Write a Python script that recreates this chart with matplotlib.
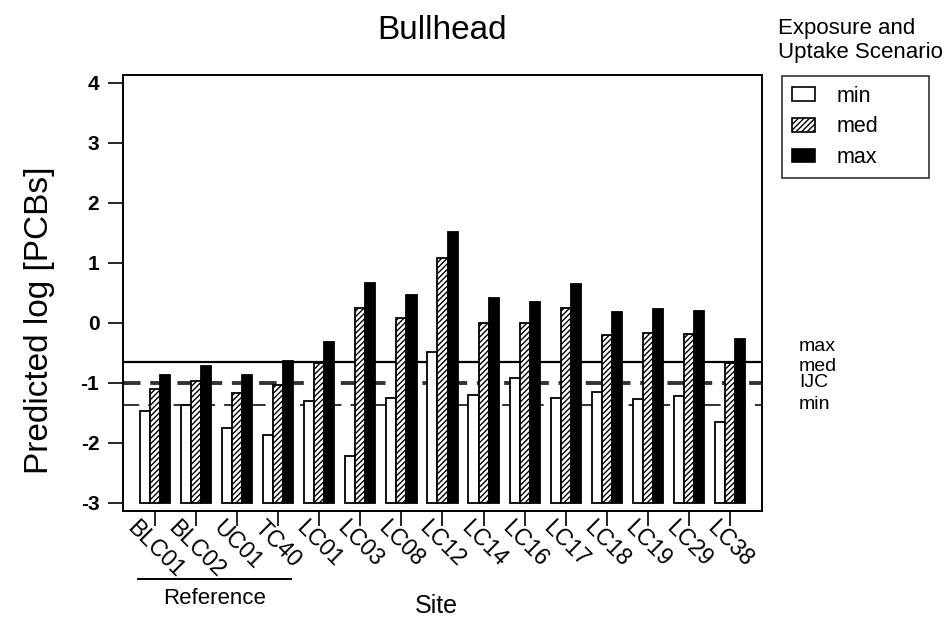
import numpy as np
import matplotlib.pyplot as plt
from matplotlib.patches import Patch
from matplotlib.lines import Line2D
import matplotlib.transforms as mtransforms

plt.rcParams['font.family'] = ['Liberation Sans', 'DejaVu Sans']
plt.rcParams['hatch.linewidth'] = 1.0

sites = ['BLC01', 'BLC02', 'UC01', 'TC40', 'LC01', 'LC03', 'LC08', 'LC12',
         'LC14', 'LC16', 'LC17', 'LC18', 'LC19', 'LC29', 'LC38']
min_vals = [-1.47, -1.38, -1.75, -1.88, -1.30, -2.23, -1.26, -0.49,
            -1.21, -0.93, -1.26, -1.16, -1.28, -1.23, -1.66]
med_vals = [-1.10, -0.97, -1.18, -1.04, -0.67, 0.25, 0.07, 1.08,
            0.00, -0.01, 0.25, -0.21, -0.18, -0.19, -0.68]
max_vals = [-0.88, -0.72, -0.88, -0.64, -0.33, 0.66, 0.46, 1.51,
            0.41, 0.35, 0.64, 0.17, 0.22, 0.20, -0.28]

# benchmark levels drawn across the plot
bench_max = -0.66
bench_med = -1.00
bench_min = -1.38

baseline = -3.0

fig = plt.figure(figsize=(9.48, 6.19), dpi=100)
ax = fig.add_axes([0.1297, 0.1745, 0.6741, 0.7043])

x = np.arange(len(sites))
w = 0.245
ax.bar(x - w, np.array(min_vals) - baseline, w, bottom=baseline,
       color='white', edgecolor='black', linewidth=1.3)
ax.bar(x, np.array(med_vals) - baseline, w, bottom=baseline,
       color='white', edgecolor='black', linewidth=1.3, hatch='//////')
ax.bar(x + w, np.array(max_vals) - baseline, w, bottom=baseline,
       color='black', edgecolor='black', linewidth=1.3)

ax.axhline(bench_max, color='black', linewidth=1.6, zorder=0)
ax.axhline(bench_med, color='#333333', linewidth=2.8, linestyle=(0, (4.5, 2.5)), zorder=0)
ax.axhline(bench_min, color='#222222', linewidth=1.3, linestyle=(0, (9, 5)), zorder=0)

ax.set_xlim(-0.78, 14.78)
ax.set_ylim(-3.14, 4.13)
ax.set_yticks(range(-3, 5))
ax.set_yticklabels([str(v) for v in range(-3, 5)], fontsize=15, fontweight='bold')
ax.set_xticks(x)
ax.set_xticklabels(sites, rotation=-45, ha='center', va='top', fontsize=16.5)
offset = mtransforms.ScaledTranslation(-0.11, 0.0, fig.dpi_scale_trans)
for lab in ax.get_xticklabels():
    lab.set_transform(lab.get_transform() + offset)
ax.tick_params(axis='both', direction='out', length=11, width=1.2, colors='black')
ax.tick_params(axis='y', pad=6)
ax.tick_params(axis='x', pad=-7)
for sp in ax.spines.values():
    sp.set_linewidth(1.4)

ax.set_title('Bullhead', fontsize=24, pad=26)
ax.set_ylabel('Predicted log [PCBs]', fontsize=24)
ax.yaxis.set_label_coords(-0.107, 0.438)
ax.set_xlabel('Site', fontsize=18)
ax.xaxis.set_label_coords(0.49, -0.19)

# benchmark labels to the right of the plot
for txt, yv in [('max', -0.40), ('med', -0.73), ('IJC', -1.0), ('min', -1.37)]:
    ax.text(15.68, yv, txt, fontsize=14, va='center', ha='left', clip_on=False)

# reference-site bracket
fig.add_artist(Line2D([138 / 948, 291 / 948], [1 - 579 / 619, 1 - 579 / 619],
                      color='black', linewidth=1.4))
fig.text(215 / 948, 1 - 598 / 619, 'Reference', fontsize=16, ha='center', va='center')

# legend
fig.text(778 / 948, 1 - 18 / 619, 'Exposure and\nUptake Scenario', fontsize=16,
         ha='left', va='top', linespacing=1.2)
handles = [Patch(facecolor='white', edgecolor='black', linewidth=1.2),
           Patch(facecolor='white', edgecolor='black', linewidth=1.2, hatch='//////'),
           Patch(facecolor='black', edgecolor='black', linewidth=1.2)]
leg = fig.legend(handles, ['min', 'med', 'max'], loc='upper left',
                 bbox_to_anchor=(782 / 948, 1 - 180 / 619, 147 / 948, 104 / 619),
                 mode='expand', fontsize=15.5,
                 frameon=True, fancybox=False, handlelength=1.1, handleheight=0.6,
                 handletextpad=1.0, labelspacing=0.45, borderpad=0.45,
                 borderaxespad=0)
leg.get_frame().set_edgecolor('black')
leg.get_frame().set_linewidth(1.2)

fig.savefig('out.png', dpi=100)
